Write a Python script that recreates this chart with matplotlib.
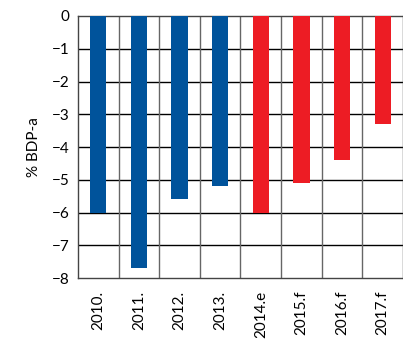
import matplotlib
matplotlib.use("Agg")
import matplotlib.pyplot as plt
import numpy as np

categories = ["2010.", "2011.", "2012.", "2013.", "2014.e", "2015.f", "2016.f", "2017.f"]
values = [-6.0, -7.7, -5.6, -5.2, -6.0, -5.1, -4.4, -3.3]
colors = ["#00539b"] * 4 + ["#ed1c24"] * 4

plt.rcParams['font.family'] = ['Lato', 'DejaVu Sans']
fig = plt.figure(figsize=(4.03, 3.4), dpi=100)
ax = fig.add_axes([0.1935, 0.182, 0.8065, 0.771])
x = np.arange(len(categories))
ax.bar(x, values, width=0.4, color=colors, zorder=3)
ax.set_xlim(-0.5, len(categories) - 0.5)
ax.set_ylim(-8, 0)
ax.set_yticks(range(-8, 1))
ax.set_yticklabels([str(v).replace('-', '\u2212') for v in range(-8, 1)])
for yv in range(-7, 0):
    ax.axhline(yv, color='black', lw=1.0, zorder=1)
for xv in np.arange(0.5, len(categories) - 0.5, 1):
    ax.axvline(xv, color='#666666', lw=1.0, zorder=1)
ax.set_xticks(x)
ax.set_xticklabels(categories, rotation=90, fontsize=11)
ax.tick_params(axis='y', length=0, labelsize=11, pad=6)
ax.tick_params(axis='x', length=0, labelsize=11, pad=9)
ax.set_ylabel('% BDP-a', fontsize=11, labelpad=8)
for s in ax.spines.values():
    s.set_color('#444444')
    s.set_linewidth(1.0)
fig.savefig('out.png', dpi=100)
